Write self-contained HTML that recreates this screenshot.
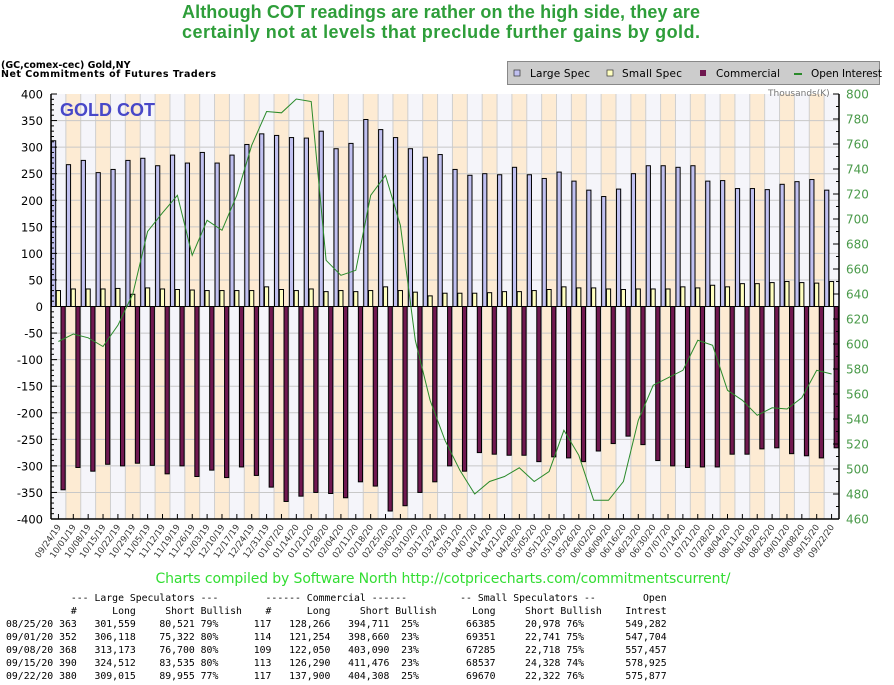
<!DOCTYPE html>
<html><head><meta charset="utf-8"><style>
html,body{margin:0;padding:0;background:#fff;}
svg{display:block;}
</style></head><body>
<svg id="s" width="894" height="685" xmlns="http://www.w3.org/2000/svg" font-family="DejaVu Sans, Liberation Sans, sans-serif"></svg>
<script>
const S=document.getElementById('s');
let h='';
const LS=[312,267,275,252,258,275,279,265,285,270,290,270,285,305,325,322,318,317,330,297,307,352,333,318,297,281,286,258,247,250,248,262,248,241,253,236,219,207,221,250,265,265,262,265,236,237,222,222,220,230,235,239,219];
const SS=[30,33,33,33,34,23,35,33,32,31,30,30,30,30,37,32,30,33,28,30,28,30,37,30,27,20,25,25,25,26,28,28,30,32,37,35,35,33,32,33,33,33,37,35,40,37,43,43,45,47,45,44,47];
const CM=[-345,-303,-310,-297,-300,-295,-299,-315,-300,-320,-308,-322,-302,-318,-340,-367,-357,-350,-352,-360,-330,-338,-385,-375,-350,-330,-300,-310,-275,-278,-280,-280,-292,-283,-285,-292,-272,-258,-244,-260,-290,-300,-303,-302,-302,-278,-278,-268,-266,-277,-281,-285,-266];
const OI=[602,608,605,598,615,640,690,705,719,671,699,691,719,759,786,785,796,794,667,655,659,719,735,695,603,555,523,499,480,490,494,501,490,498,531,511,475,475,490,539,567,573,579,603,599,563,555,543,549,548,557,579,576];
const X0=51,X1=839,Y0=94,Y1=519,N=53,W=(X1-X0)/N;
const yL=v=>306.5-v*0.53125, yR=v=>Y0+(800-v)*1.25;
h+=`<text x="441" y="18" text-anchor="middle" font-family="Liberation Sans" font-weight="bold" font-size="18" fill="#2e9e3a" textLength="518">Although COT readings are rather on the high side, they are</text>`;
h+=`<text x="441" y="38" text-anchor="middle" font-family="Liberation Sans" font-weight="bold" font-size="18" fill="#2e9e3a" textLength="518">certainly not at levels that preclude further gains by gold.</text>`;
h+=`<text x="1" y="68" font-weight="bold" font-size="9.5" fill="#000">(GC,comex-cec) Gold,NY</text>`;
h+=`<text x="1" y="77" font-weight="bold" font-size="9.5" fill="#000" textLength="215">Net Commitments of Futures Traders</text>`;
h+=`<rect x="507.5" y="61.5" width="372" height="23" fill="#cccccc" stroke="#888"/>`;
h+=`<rect x="514" y="70" width="6" height="6" fill="#c0c0f0" stroke="#333" stroke-width="0.7"/><text x="530" y="77" font-size="10.5" textLength="60">Large Spec</text>`;
h+=`<rect x="607" y="70" width="6" height="6" fill="#ffffc0" stroke="#333" stroke-width="0.7"/><text x="622" y="77" font-size="10.5" textLength="60">Small Spec</text>`;
h+=`<rect x="700" y="70" width="6" height="6" fill="#701850"/><text x="716" y="77" font-size="10.5" textLength="64">Commercial</text>`;
h+=`<line x1="794" y1="74" x2="802" y2="74" stroke="#2a8a2a" stroke-width="2"/><text x="811" y="77" font-size="10.5" textLength="71">Open Interest</text>`;
for(let i=0;i<N;i++){const x=X0+i*W;h+=`<rect x="${x}" y="${Y0}" width="${W}" height="${Y1-Y0}" fill="${i%2?'#fdebd3':'#f5f5fa'}"/>`;h+=`<line x1="${x}" y1="${Y0}" x2="${x}" y2="${Y1}" stroke="#cfcfcf" stroke-width="1"/>`;}
for(let v=-350;v<400;v+=50){const y=yL(v);h+=`<line x1="${X0}" y1="${y}" x2="${X1}" y2="${y}" stroke="#c8c8c8"/>`;}
for(let i=0;i<N;i++){const g=X0+i*W;
 const a=yL(LS[i]);h+=`<rect x="${g+0.5}" y="${a}" width="4.2" height="${306.5-a}" fill="#c0c0f0" stroke="#000" stroke-width="1"/>`;
 const b=yL(SS[i]);h+=`<rect x="${g+5.3}" y="${b}" width="4.2" height="${306.5-b}" fill="#ffffc0" stroke="#000" stroke-width="1"/>`;
 const c=yL(CM[i]);h+=`<rect x="${g+10}" y="306.5" width="4.2" height="${c-306.5}" fill="#701850" stroke="#000" stroke-width="1"/>`;}
h+=`<line x1="${X0}" y1="306.5" x2="${X1}" y2="306.5" stroke="#000"/>`;
h+=`<polyline fill="none" stroke="#2a8a2a" stroke-width="1" points="${OI.map((v,i)=>(X0+i*W+W/2).toFixed(1)+','+yR(v).toFixed(1)).join(' ')}"/>`;
h+=`<line x1="${X0}" y1="${Y0}" x2="${X0}" y2="${Y1}" stroke="#000" stroke-width="1.5"/>`;
h+=`<line x1="${X1}" y1="${Y0}" x2="${X1}" y2="${Y1}" stroke="#000" stroke-width="1.5"/>`;
h+=`<line x1="${X0}" y1="${Y1}" x2="${X1}" y2="${Y1}" stroke="#000" stroke-width="1.5"/>`;
for(let v=-400;v<=400;v+=10){const y=yL(v);h+=`<line x1="${X0}" y1="${y}" x2="${X0+(v%50?3:6)}" y2="${y}" stroke="#000"/>`;}
for(let v=-400;v<=400;v+=50){h+=`<text x="43" y="${yL(v)+4.5}" text-anchor="end" font-size="11.5">${v}</text>`;}
for(let v=460;v<=800;v+=10){const y=yR(v);h+=`<line x1="${X1-(v%20?3:6)}" y1="${y}" x2="${X1}" y2="${y}" stroke="#000"/>`;}
for(let v=460;v<=800;v+=20){h+=`<text x="846" y="${yR(v)+4.5}" font-size="12" fill="#4a9a4a">${v}</text>`;}
h+=`<text x="768" y="96" font-size="9" fill="#777">Thousands(K)</text>`;
h+=`<text x="60" y="116" font-family="Liberation Sans" font-weight="bold" font-size="18" fill="#4848c8">GOLD COT</text>`;
let d=new Date(2019,8,24);
for(let i=0;i<N;i++){const x=X0+i*W+W/2;h+=`<line x1="${x}" y1="${Y1}" x2="${x}" y2="${Y1-5}" stroke="#000"/>`;
 const s=String(d.getMonth()+1).padStart(2,'0')+'/'+String(d.getDate()).padStart(2,'0')+'/'+String(d.getFullYear()%100).padStart(2,'0');
 h+=`<text x="${x+3}" y="${Y1+8}" text-anchor="end" font-size="8.6" fill="#333" transform="rotate(-55 ${x+3} ${Y1+8})">${s}</text>`;
 d.setDate(d.getDate()+7);}
h+=`<text x="443" y="583" text-anchor="middle" font-size="14" fill="#33dd33" textLength="575">Charts compiled by Software North  http://cotpricecharts.com/commitmentscurrent/</text>`;
function line(parts){let a=[];for(const [i,t] of parts){while(a.length<i)a.push(' ');for(let k=0;k<t.length;k++)a[i+k]=t[k];}return a.join('').replace(/ /g,'\u00a0');}
const rows=[
 line([[11,'--- Large Speculators ---'],[44,'------ Commercial ------'],[77,'-- Small Speculators --'],[108,'Open']]),
 line([[11,'#'],[18,'Long'],[27,'Short'],[33,'Bullish'],[44,'#'],[51,'Long'],[60,'Short'],[66,'Bullish'],[79,'Long'],[88,'Short'],[94,'Bullish'],[105,'Intrest']]),
];
const data=[['08/25/20 363','301,559','80,521','79%','117','128,266','394,711','25%','66385','20,978','76%','549,282'],
['09/01/20 352','306,118','75,322','80%','114','121,254','398,660','23%','69351','22,741','75%','547,704'],
['09/08/20 368','313,173','76,700','80%','109','122,050','403,090','23%','67285','22,718','75%','557,457'],
['09/15/20 390','324,512','83,535','80%','113','126,290','411,476','23%','68537','24,328','74%','578,925'],
['09/22/20 380','309,015','89,955','77%','117','137,900','404,308','25%','69670','22,322','76%','575,877']];
const pos=[0,15,26,33,42,48,58,67,78,88,95,105];
for(const r of data)rows.push(line(r.map((t,k)=>[pos[k],t])));
rows.forEach((r,k)=>{h+=`<text x="6" y="${601+k*13}" font-family="DejaVu Sans Mono, Liberation Mono, monospace" font-size="9.8" fill="#000">${r}</text>`;});
S.innerHTML=h;
</script>
</body></html>
